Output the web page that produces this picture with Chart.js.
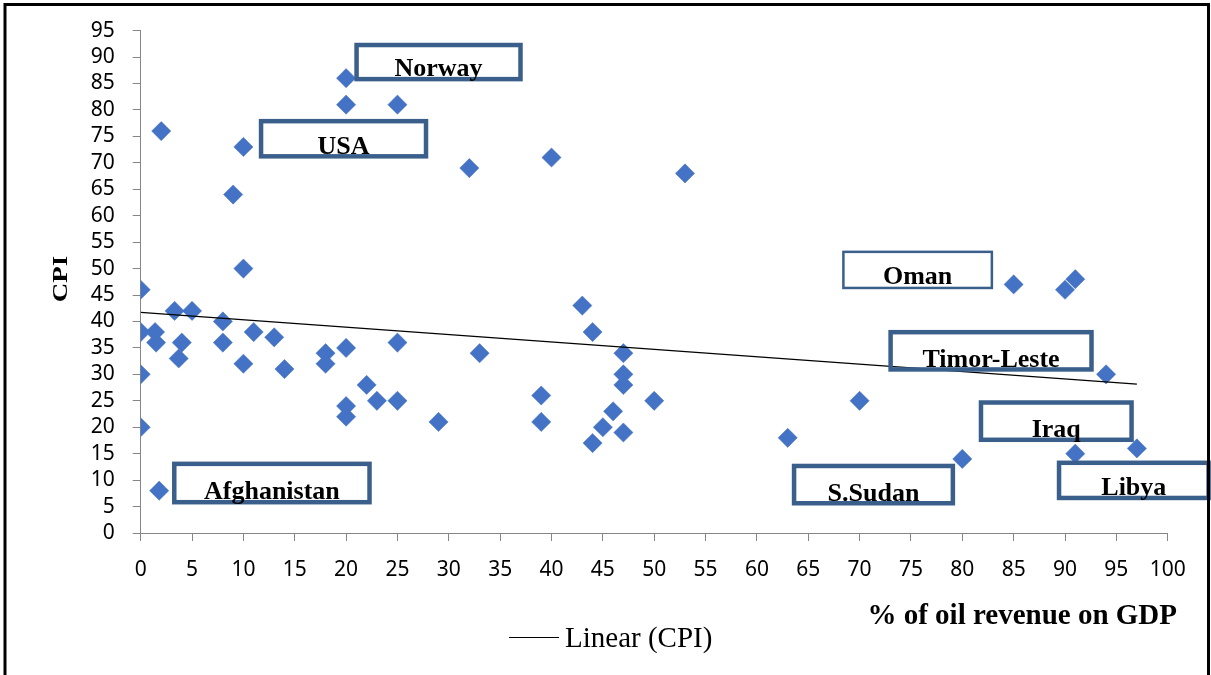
<!DOCTYPE html>
<html>
<head>
<meta charset="utf-8">
<script src="https://cdn.jsdelivr.net/npm/chart.js@4"></script>
<style>
  html, body { margin: 0; padding: 0; background: #fff; }
  canvas { display: block; }
</style>
</head>
<body>
<canvas id="cpiChart" width="1211" height="675"></canvas>
<script>
// data: % of oil revenue on GDP vs CPI
const oilShare = [0, 0, 0, 0, 1.4, 1.5, 1.8, 2, 3.3, 4, 3.7, 5, 8, 8, 9, 10, 10, 10, 11, 13, 14, 18, 18,
    20, 20, 20, 20, 20, 22, 23, 25, 25, 25, 29, 32, 33, 39, 39, 40, 43, 44, 44, 45, 46, 47, 47, 47, 47,
    50, 53, 63, 70, 80, 85, 90, 91, 91, 94, 97];
const cpiValues = [46, 38, 30, 20, 38, 36, 8, 76, 42, 36, 33, 42, 40, 36, 64, 73, 50, 32, 38, 37, 31, 34, 32,
    86, 81, 35, 24, 22, 28, 25, 81, 36, 25, 21, 69, 34, 26, 21, 71, 43, 38, 17, 20, 23, 34, 30, 28, 19,
    25, 68, 18, 25, 14, 47, 46, 48, 15, 30, 16];
const xTicks = [0, 5, 10, 15, 20, 25, 30, 35, 40, 45, 50, 55, 60, 65, 70, 75, 80, 85, 90, 95, 100];
const yTicks = [0, 5, 10, 15, 20, 25, 30, 35, 40, 45, 50, 55, 60, 65, 70, 75, 80, 85, 90, 95];

// country call-outs, box edges in axis units
const boxLabels = ['Norway', 'USA', 'Oman', 'Timor-Leste', 'Iraq', 'Libya', 'S.Sudan', 'Afghanistan'];
const boxX = [[20.8, 37.2], [11.5, 28.0], [68.3, 83.0], [72.8, 92.8], [81.6, 96.7], [89.2, 104.2], [63.4, 79.3], [3.05, 22.5]];
const boxY = [[92.7, 85.4], [78.3, 70.8], [53.4, 46.1], [38.4, 30.5], [25.1, 17.2], [13.7, 6.2], [13.1, 5.2], [13.5, 5.4]];

const points = oilShare.map((x, i) => ({ x: x, y: cpiValues[i] }));

// least squares trend, like Excel's "Linear (CPI)"
function linearTrend() {
    const n = oilShare.length;
    let sx = 0, sy = 0, sxy = 0, sxx = 0;
    for (let i = 0; i < n; i++) {
        sx += oilShare[i]; sy += cpiValues[i];
        sxy += oilShare[i] * cpiValues[i]; sxx += oilShare[i] * oilShare[i];
    }
    const slope = (n * sxy - sx * sy) / (n * sxx - sx * sx);
    const icpt = (sy - slope * sx) / n;
    const x0 = Math.min(...oilShare), x1 = Math.max(...oilShare);
    return [{ x: x0, y: icpt + slope * x0 }, { x: x1, y: icpt + slope * x1 }];
}

const axisGrey = '#868686';
const tickFont = { family: '"Noto Sans", sans-serif', size: 21 };

const decorPlugin = {
    id: 'decor',
    beforeDraw(chart) {
        const ctx = chart.ctx;
        ctx.save();
        ctx.fillStyle = '#fff';
        ctx.fillRect(0, 0, chart.width, chart.height);
        ctx.restore();
    },
    afterDraw(chart) {
        const ctx = chart.ctx;
        const xs = chart.scales.x, ys = chart.scales.y;
        ctx.save();

        // call-out boxes
        ctx.font = 'bold 26px "Liberation Serif", "Times New Roman", serif';
        ctx.textAlign = 'center';
        ctx.textBaseline = 'alphabetic';
        boxLabels.forEach((txt, i) => {
            const l = xs.getPixelForValue(boxX[i][0]);
            const r = xs.getPixelForValue(boxX[i][1]);
            const t = ys.getPixelForValue(boxY[i][0]);
            const b = ys.getPixelForValue(boxY[i][1]);
            const lw = txt === 'Oman' ? 2.5 : 4.5;
            ctx.lineWidth = lw;
            ctx.strokeStyle = '#3b5f8b';
            ctx.strokeRect(l + lw / 2, t + lw / 2, r - l - lw, b - t - lw);
            ctx.fillStyle = '#000';
            ctx.fillText(txt, (l + r) / 2, b - 5);
        });

        // axis titles
        ctx.font = 'bold 29px "Liberation Serif", "Times New Roman", serif';
        ctx.textAlign = 'right';
        ctx.fillText('% of oil revenue on GDP', 1177, 624);

        ctx.save();
        ctx.translate(67, 279);
        ctx.rotate(-Math.PI / 2);
        ctx.scale(1, 0.75);
        ctx.font = 'bold 27px "Liberation Serif", "Times New Roman", serif';
        ctx.textAlign = 'center';
        ctx.textBaseline = 'alphabetic';
        ctx.fillText('CPI', 0, 0);
        ctx.restore();

        // legend
        ctx.strokeStyle = '#000';
        ctx.lineWidth = 1.2;
        ctx.beginPath();
        ctx.moveTo(509, 637.5);
        ctx.lineTo(559, 637.5);
        ctx.stroke();
        ctx.font = '29px "Liberation Serif", "Times New Roman", serif';
        ctx.textAlign = 'left';
        ctx.fillText('Linear (CPI)', 565, 647);

        // outer frame
        ctx.lineWidth = 3;
        ctx.strokeStyle = '#000';
        ctx.strokeRect(5, 4.5, 1203.5, 700);
        ctx.restore();
    }
};

function renderChart() {
    const canvas = document.getElementById('cpiChart');
    new Chart(canvas.getContext('2d'), {
        type: 'scatter',
        data: {
            datasets: [{
                type: 'line',
                label: 'Linear (CPI)',
                data: linearTrend(),
                borderColor: '#000',
                borderWidth: 1.2,
                pointRadius: 0,
                fill: false,
                order: 0
            }, {
                label: 'CPI',
                data: points,
                pointStyle: 'rectRot',
                pointRadius: 9.6,
                pointHoverRadius: 9.6,
                backgroundColor: '#4472c4',
                borderColor: '#4472c4',
                borderWidth: 0.5,
                order: 1
            }]
        },
        options: {
            responsive: false,
            animation: false,
            layout: { padding: { top: 25.7, right: 43.3, left: 0, bottom: 0 } },
            plugins: {
                legend: { display: false },
                tooltip: { enabled: false }
            },
            scales: {
                x: {
                    type: 'linear',
                    min: 0,
                    max: 100,
                    afterBuildTicks: (s) => { s.ticks = xTicks.map(v => ({ value: v })); },
                    afterFit: (s) => { s.height = 142; },
                    border: { display: true, color: axisGrey, width: 1 },
                    grid: { display: true, drawOnChartArea: false, drawTicks: true, tickLength: 8, color: axisGrey },
                    ticks: { color: '#000', font: tickFont, padding: 16, maxRotation: 0, autoSkip: false }
                },
                y: {
                    type: 'linear',
                    min: 0,
                    max: 95,
                    afterBuildTicks: (s) => { s.ticks = yTicks.map(v => ({ value: v })); },
                    afterFit: (s) => { s.width = 140.7; },
                    border: { display: true, color: axisGrey, width: 1 },
                    grid: { display: true, drawOnChartArea: false, drawTicks: true, tickLength: 8, color: axisGrey },
                    ticks: { color: '#000', font: tickFont, padding: 18, autoSkip: false }
                }
            }
        },
        plugins: [decorPlugin]
    });
}

renderChart();
</script>
</body>
</html>
